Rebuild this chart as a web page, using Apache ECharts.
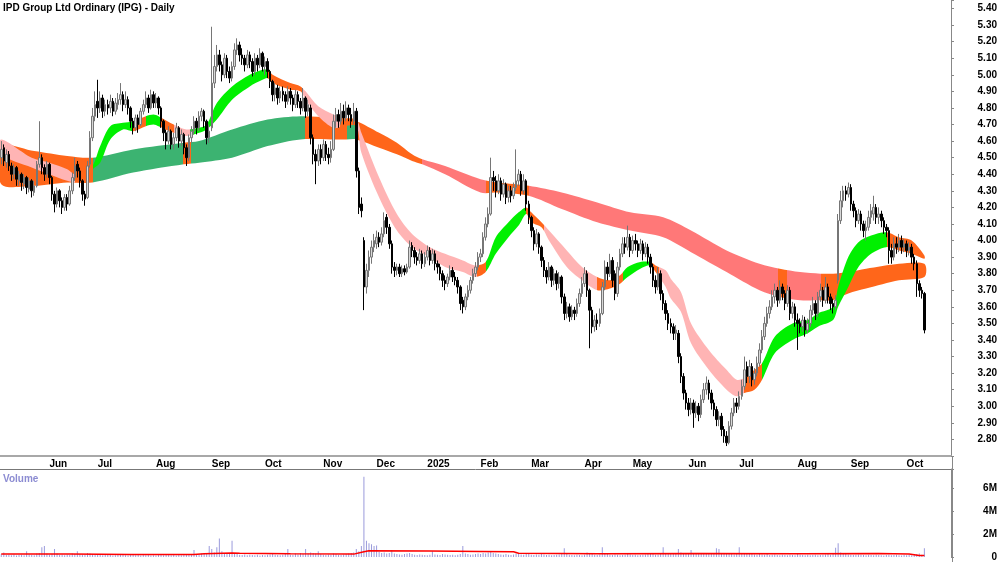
<!DOCTYPE html>
<html>
<head>
<meta charset="utf-8">
<title>IPD Group Ltd Ordinary (IPG) - Daily</title>
<script src="https://cdn.jsdelivr.net/npm/echarts@6/dist/echarts.min.js"></script>
<style>
  html, body { margin: 0; padding: 0; background: #fff; }
  #chart { width: 1000px; height: 562px; }
</style>
</head>
<body>
<div id="chart"></div>
<script>
// trading calendar (ASX), first bar and public holidays
const startDate = '2024-05-07'
const holidays = ['2024-06-10', '2024-12-25', '2024-12-26', '2025-01-01', '2025-01-27',
  '2025-04-18', '2025-04-21', '2025-04-25', '2025-06-09']
const slotCount = 375
const monthNames = ['Jan', 'Feb', 'Mar', 'Apr', 'May', 'Jun', 'Jul', 'Aug', 'Sep', 'Oct', 'Nov', 'Dec']

// daily bars: [open, close, low, high]
const candles = [
  [4.50,4.55,4.46,4.60],[4.56,4.48,4.45,4.58],[4.47,4.52,4.44,4.55],[4.52,4.45,4.42,4.54],[4.45,4.40,4.36,4.47],
  [4.40,4.44,4.37,4.46],[4.44,4.37,4.33,4.45],[4.36,4.40,4.33,4.42],[4.40,4.35,4.30,4.41],[4.34,4.38,4.31,4.40],
  [4.38,4.32,4.28,4.39],[4.31,4.36,4.29,4.38],[4.36,4.30,4.26,4.37],[4.29,4.33,4.27,4.36],[4.33,4.46,4.32,4.48],
  [4.46,4.50,4.44,4.72],[4.50,4.44,4.40,4.52],[4.44,4.40,4.36,4.46],[4.40,4.46,4.38,4.48],[4.46,4.38,4.34,4.47],
  [4.38,4.28,4.24,4.39],[4.28,4.22,4.17,4.30],[4.22,4.30,4.20,4.32],[4.30,4.24,4.20,4.31],[4.24,4.20,4.16,4.26],
  [4.20,4.26,4.18,4.28],[4.26,4.22,4.18,4.28],[4.22,4.30,4.21,4.33],[4.30,4.38,4.28,4.41],[4.38,4.45,4.36,4.50],
  [4.46,4.42,4.38,4.48],[4.42,4.36,4.32,4.44],[4.36,4.28,4.24,4.37],[4.28,4.25,4.21,4.30],[4.26,4.45,4.25,4.48],
  [4.46,4.62,4.44,4.66],[4.62,4.75,4.60,4.80],[4.75,4.82,4.72,4.90],[4.84,4.80,4.74,4.97],[4.80,4.86,4.77,4.90],
  [4.86,4.78,4.74,4.88],[4.78,4.82,4.75,4.85],[4.82,4.80,4.76,4.85],[4.80,4.84,4.77,4.88],[4.84,4.78,4.75,4.86],
  [4.78,4.83,4.76,4.86],[4.82,4.85,4.79,4.89],[4.85,4.88,4.82,4.95],[4.88,4.82,4.78,4.90],[4.82,4.85,4.80,4.90],
  [4.85,4.80,4.76,4.87],[4.80,4.72,4.68,4.81],[4.72,4.68,4.64,4.74],[4.68,4.74,4.66,4.76],[4.74,4.70,4.65,4.76],
  [4.70,4.78,4.69,4.80],[4.78,4.82,4.76,4.85],[4.82,4.86,4.80,4.90],[4.86,4.80,4.77,4.88],[4.80,4.88,4.79,4.91],
  [4.88,4.83,4.80,4.90],[4.83,4.86,4.80,4.89],[4.86,4.80,4.76,4.87],[4.80,4.72,4.68,4.81],[4.72,4.65,4.60,4.73],
  [4.65,4.60,4.55,4.67],[4.60,4.66,4.58,4.69],[4.66,4.58,4.55,4.67],[4.58,4.62,4.55,4.65],[4.62,4.68,4.60,4.71],
  [4.68,4.60,4.56,4.69],[4.60,4.64,4.57,4.67],[4.64,4.56,4.52,4.65],[4.56,4.50,4.45,4.58],[4.50,4.62,4.48,4.64],
  [4.62,4.66,4.59,4.69],[4.66,4.72,4.64,4.75],[4.72,4.68,4.64,4.74],[4.68,4.75,4.66,4.78],[4.75,4.78,4.72,4.80],
  [4.78,4.72,4.68,4.79],[4.72,4.62,4.58,4.73],[4.62,4.66,4.59,4.70],[4.68,4.95,4.66,5.29],[4.95,5.05,4.92,5.12],
  [5.05,5.12,5.02,5.18],[5.12,5.06,5.02,5.15],[5.06,5.00,4.96,5.08],[5.00,5.10,4.98,5.13],[5.10,5.02,4.98,5.12],
  [5.02,4.98,4.95,5.05],[4.98,5.05,4.96,5.08],[5.05,5.15,5.03,5.19],[5.15,5.18,5.12,5.22],[5.18,5.12,5.08,5.20],
  [5.12,5.10,5.06,5.16],[5.10,5.06,5.02,5.12],[5.06,5.12,5.04,5.15],[5.12,5.08,5.04,5.14],[5.08,5.02,4.99,5.10],
  [5.02,5.10,5.00,5.13],[5.10,5.06,5.02,5.12],[5.06,5.13,5.04,5.16],[5.13,5.05,5.02,5.14],[5.05,5.08,5.00,5.11],
  [5.08,5.02,4.98,5.10],[5.02,4.96,4.92,5.03],[4.96,4.88,4.84,4.97],[4.88,4.92,4.84,4.95],[4.92,4.86,4.82,4.94],
  [4.86,4.90,4.83,4.93],[4.90,4.88,4.84,4.93],[4.88,4.84,4.80,4.90],[4.84,4.90,4.82,4.93],[4.90,4.86,4.82,4.92],
  [4.86,4.82,4.78,4.88],[4.82,4.88,4.80,4.91],[4.88,4.84,4.80,4.90],[4.84,4.80,4.76,4.86],[4.80,4.86,4.78,4.92],
  [4.86,4.78,4.74,4.87],[4.78,4.82,4.75,4.85],[4.80,4.62,4.58,4.82],[4.62,4.52,4.46,4.64],[4.52,4.48,4.34,4.55],
  [4.48,4.55,4.45,4.58],[4.55,4.50,4.46,4.58],[4.50,4.58,4.48,4.61],[4.58,4.52,4.48,4.60],[4.52,4.50,4.46,4.56],
  [4.50,4.55,4.47,4.60],[4.55,4.72,4.54,4.76],[4.72,4.76,4.68,4.80],[4.76,4.72,4.68,4.79],[4.72,4.78,4.70,4.83],
  [4.78,4.74,4.70,4.82],[4.74,4.80,4.72,4.84],[4.80,4.76,4.72,4.82],[4.76,4.72,4.68,4.80],[4.72,4.78,4.70,4.83],
  [4.78,4.42,4.38,4.80],[4.42,4.20,4.16,4.44],[4.22,4.18,4.14,4.26],[4.00,3.72,3.58,4.02],[3.72,3.82,3.68,3.86],
  [3.82,3.90,3.78,3.94],[3.90,3.96,3.86,4.00],[3.96,4.00,3.93,4.04],[3.98,4.02,3.95,4.06],[4.02,3.99,3.96,4.05],
  [3.99,4.04,3.97,4.08],[4.04,4.12,4.02,4.17],[4.14,4.08,4.04,4.16],[4.08,3.98,3.95,4.10],[3.98,3.84,3.80,4.00],
  [3.84,3.82,3.78,3.87],[3.82,3.84,3.79,3.86],[3.84,3.80,3.78,3.86],[3.80,3.83,3.78,3.85],[3.83,3.81,3.79,3.85],
  [3.81,3.84,3.80,3.86],[3.84,3.96,3.83,4.00],[3.97,3.94,3.90,3.99],[3.94,3.90,3.86,3.96],[3.90,3.88,3.85,3.93],
  [3.88,3.92,3.86,3.95],[3.92,3.86,3.83,3.94],[3.86,3.90,3.84,3.93],[3.90,3.94,3.88,3.97],[3.94,3.88,3.85,3.96],
  [3.88,3.92,3.86,3.95],[3.92,3.86,3.82,3.94],[3.86,3.84,3.80,3.88],[3.84,3.80,3.76,3.86],[3.80,3.76,3.72,3.82],
  [3.76,3.74,3.70,3.79],[3.74,3.78,3.72,3.80],[3.78,3.82,3.76,3.85],[3.82,3.78,3.75,3.84],[3.78,3.76,3.73,3.81],
  [3.76,3.72,3.68,3.78],[3.72,3.62,3.58,3.73],[3.64,3.60,3.56,3.66],[3.60,3.66,3.58,3.68],[3.66,3.70,3.64,3.73],
  [3.70,3.76,3.68,3.78],[3.76,3.80,3.74,3.83],[3.80,3.84,3.78,3.87],[3.84,3.90,3.82,3.93],[3.90,3.92,3.87,3.95],
  [3.92,4.02,3.90,4.05],[4.02,4.10,4.00,4.14],[4.10,4.16,4.08,4.20],[4.16,4.38,4.15,4.50],[4.38,4.36,4.30,4.42],
  [4.36,4.30,4.26,4.39],[4.30,4.36,4.28,4.40],[4.36,4.28,4.24,4.38],[4.28,4.34,4.26,4.37],[4.34,4.26,4.22,4.35],
  [4.26,4.30,4.23,4.33],[4.30,4.27,4.23,4.33],[4.27,4.32,4.25,4.35],[4.32,4.36,4.30,4.55],[4.36,4.40,4.33,4.43],
  [4.40,4.30,4.27,4.42],[4.30,4.36,4.28,4.40],[4.36,4.22,4.18,4.37],[4.22,4.14,4.10,4.24],[4.14,4.06,4.02,4.15],
  [4.06,3.98,3.94,4.08],[3.98,4.04,3.96,4.07],[4.04,3.96,3.92,4.05],[3.96,3.88,3.84,3.97],[3.88,3.82,3.78,3.90],
  [3.82,3.78,3.74,3.84],[3.78,3.84,3.76,3.87],[3.84,3.76,3.72,3.85],[3.76,3.80,3.73,3.83],[3.80,3.74,3.70,3.82],
  [3.74,3.78,3.71,3.81],[3.78,3.66,3.62,3.79],[3.66,3.56,3.52,3.68],[3.56,3.60,3.53,3.63],[3.60,3.54,3.51,3.62],
  [3.54,3.58,3.52,3.61],[3.58,3.56,3.52,3.60],[3.56,3.62,3.54,3.65],[3.62,3.68,3.60,3.71],[3.68,3.74,3.66,3.78],
  [3.74,3.80,3.72,3.84],[3.80,3.70,3.66,3.82],[3.70,3.58,3.35,3.71],[3.58,3.48,3.44,3.60],[3.48,3.52,3.45,3.55],
  [3.52,3.50,3.46,3.56],[3.50,3.56,3.48,3.59],[3.56,3.72,3.55,3.75],[3.72,3.84,3.70,3.88],[3.84,3.80,3.76,3.87],
  [3.80,3.88,3.78,3.92],[3.88,3.76,3.72,3.90],[3.80,3.68,3.64,3.82],[3.68,3.84,3.66,3.87],[3.84,3.92,3.82,3.95],
  [3.92,3.98,3.90,4.02],[3.98,3.96,3.92,4.02],[3.96,4.02,3.94,4.09],[4.02,3.94,3.90,4.04],[3.94,4.00,3.92,4.03],
  [4.00,3.98,3.94,4.04],[3.98,3.94,3.90,4.00],[3.94,3.98,3.92,4.01],[3.98,3.92,3.88,4.00],[3.92,3.96,3.90,3.99],
  [3.96,3.90,3.86,3.98],[3.90,3.84,3.80,3.92],[3.84,3.76,3.72,3.86],[3.76,3.72,3.68,3.79],[3.72,3.80,3.70,3.84],
  [3.80,3.68,3.64,3.82],[3.68,3.62,3.58,3.70],[3.62,3.56,3.52,3.64],[3.56,3.50,3.46,3.58],[3.50,3.48,3.44,3.53],
  [3.48,3.44,3.40,3.50],[3.44,3.46,3.40,3.49],[3.44,3.30,3.26,3.46],[3.30,3.18,3.14,3.32],[3.18,3.08,3.04,3.20],
  [3.08,3.02,2.98,3.10],[3.02,2.98,2.94,3.05],[2.98,3.02,2.95,3.05],[3.02,2.96,2.87,3.04],[2.96,3.00,2.93,3.03],
  [3.00,2.95,2.91,3.02],[2.95,3.04,2.93,3.07],[3.04,3.10,3.02,3.14],[3.10,3.14,3.07,3.18],[3.14,3.08,3.04,3.16],
  [3.08,3.02,2.98,3.10],[3.02,2.98,2.94,3.04],[2.98,2.92,2.88,3.00],[2.92,2.94,2.88,2.97],[2.94,2.86,2.82,2.96],
  [2.86,2.82,2.78,2.88],[2.82,2.78,2.76,2.85],[2.78,2.88,2.77,2.91],[2.88,2.96,2.86,2.99],[2.96,3.02,2.94,3.05],
  [3.02,3.00,2.96,3.05],[3.00,3.06,2.98,3.09],[3.06,3.12,3.04,3.16],[3.12,3.22,3.10,3.30],[3.24,3.18,3.14,3.27],
  [3.18,3.24,3.14,3.28],[3.24,3.16,3.12,3.26],[3.16,3.20,3.13,3.23],[3.20,3.26,3.18,3.30],[3.26,3.34,3.24,3.38],
  [3.34,3.42,3.32,3.46],[3.42,3.50,3.40,3.54],[3.50,3.56,3.48,3.60],[3.56,3.60,3.53,3.64],[3.60,3.66,3.58,3.70],
  [3.66,3.70,3.62,3.74],[3.70,3.64,3.60,3.72],[3.64,3.72,3.62,3.76],[3.72,3.68,3.64,3.74],[3.68,3.62,3.58,3.70],
  [3.62,3.70,3.60,3.73],[3.70,3.56,3.52,3.72],[3.56,3.60,3.53,3.63],[3.60,3.52,3.48,3.62],[3.52,3.50,3.34,3.56],
  [3.50,3.48,3.44,3.53],[3.48,3.52,3.45,3.55],[3.52,3.46,3.42,3.54],[3.46,3.50,3.44,3.53],[3.50,3.58,3.48,3.61],
  [3.58,3.62,3.55,3.66],[3.62,3.56,3.52,3.64],[3.56,3.66,3.54,3.69],[3.66,3.70,3.63,3.74],[3.70,3.64,3.60,3.72],
  [3.64,3.72,3.62,3.78],[3.72,3.66,3.62,3.74],[3.66,3.62,3.58,3.68],[3.62,3.60,3.56,3.65],[3.60,3.64,3.58,3.67],
  [3.76,4.12,3.74,4.16],[4.12,4.24,4.10,4.30],[4.24,4.30,4.20,4.33],[4.30,4.28,4.24,4.33],[4.28,4.32,4.26,4.35],
  [4.32,4.22,4.18,4.34],[4.22,4.18,4.14,4.24],[4.18,4.12,4.08,4.20],[4.12,4.16,4.10,4.19],[4.16,4.10,4.06,4.18],
  [4.10,4.06,4.02,4.12],[4.06,4.08,4.00,4.12],[4.08,4.14,4.06,4.18],[4.14,4.18,4.10,4.22],[4.16,4.20,4.12,4.27],
  [4.20,4.14,4.10,4.22],[4.14,4.16,4.10,4.20],[4.16,4.12,4.08,4.18],[4.12,4.08,4.04,4.14],[4.08,4.06,4.02,4.10],
  [4.06,3.94,3.86,4.08],[3.94,3.90,3.86,3.98],[3.90,3.98,3.88,4.02],[3.98,3.96,3.92,4.02],[3.96,4.00,3.93,4.04],
  [4.00,3.96,3.92,4.03],[3.96,3.98,3.93,4.01],[3.98,3.94,3.90,4.00],[3.94,3.96,3.91,3.99],[3.96,3.90,3.86,3.98],
  [3.90,3.86,3.82,3.92],[3.86,3.74,3.66,3.88],[3.74,3.70,3.66,3.76],[3.70,3.68,3.65,3.72],[3.68,3.46,3.44,3.69]
]

// daily volume, millions of shares
const volumeM = [
  0.25,0.4,0.18,0.2,0.15,0.22,0.12,0.18,0.2,0.15,0.5,0.22,0.18,0.15,0.3,0.35,0.85,0.95,0.3,0.2,
  0.25,0.7,0.3,0.18,0.2,0.15,0.22,0.18,0.3,0.25,0.5,0.22,0.2,0.18,0.35,0.3,0.25,0.2,0.18,0.22,
  0.15,0.2,0.18,0.25,0.12,0.15,0.2,0.18,0.22,0.15,0.12,0.18,0.2,0.15,0.18,0.12,0.2,0.15,0.18,0.12,
  0.15,0.12,0.18,0.2,0.15,0.22,0.18,0.15,0.2,0.12,0.18,0.15,0.22,0.25,0.2,0.18,0.6,0.25,0.2,0.3,
  0.35,0.25,0.95,0.7,0.4,0.85,1.6,0.5,0.35,0.3,0.25,1.4,0.3,0.25,0.2,0.18,0.22,0.15,0.2,0.18,
  0.15,0.2,0.12,0.18,0.15,0.2,0.22,0.25,0.2,0.18,0.15,0.2,0.25,0.7,0.2,0.18,0.3,0.22,0.35,0.25,
  0.7,0.3,0.4,0.35,0.3,0.5,0.25,0.2,0.18,0.22,0.2,0.3,0.25,0.2,0.18,0.22,0.25,0.3,0.35,0.4,
  0.7,0.5,0.95,6.95,1.4,1.2,1.1,0.95,1.0,0.45,0.35,0.4,0.3,0.35,0.6,0.3,0.25,0.22,0.2,0.25,
  0.3,0.35,0.25,0.2,0.18,0.22,0.2,0.18,0.15,0.2,0.5,0.22,0.2,0.18,0.25,0.22,0.2,0.18,0.2,0.15,
  0.2,0.25,0.95,0.3,0.25,0.2,0.22,0.25,0.3,0.25,0.35,0.3,0.4,0.45,0.35,0.3,0.25,0.22,0.2,0.25,
  0.2,0.18,0.22,0.3,0.25,0.22,0.2,0.3,0.25,0.2,0.18,0.22,0.2,0.25,0.22,0.18,0.2,0.15,0.18,0.2,
  0.22,0.3,0.75,0.25,0.2,0.18,0.15,0.2,0.18,0.15,0.2,0.4,0.3,0.25,0.2,0.18,0.22,0.85,0.3,0.25,
  0.2,0.18,0.22,0.2,0.15,0.18,0.2,0.25,0.22,0.18,0.2,0.15,0.18,0.2,0.22,0.25,0.3,0.25,0.2,0.22,
  0.3,0.85,0.35,0.3,0.25,0.28,0.3,0.7,0.4,0.35,0.3,0.35,0.6,0.3,0.28,0.25,0.3,0.28,0.35,0.3,
  0.25,0.3,0.75,0.7,0.35,0.3,0.28,0.3,0.25,0.22,0.3,0.85,0.35,0.3,0.25,0.28,0.25,0.22,0.2,0.25,
  0.22,0.2,0.25,0.18,0.2,0.22,0.18,0.15,0.2,0.18,0.15,0.2,0.18,0.15,0.25,0.2,0.18,0.15,0.2,0.15,
  0.18,0.2,0.15,0.18,0.2,0.22,0.25,0.2,0.3,0.8,1.2,0.4,0.3,0.25,0.22,0.2,0.18,0.2,0.22,0.2,
  0.18,0.15,0.2,0.18,0.15,0.2,0.18,0.15,0.12,0.18,0.2,0.15,0.18,0.2,0.15,0.12,0.18,0.15,0.2,0.15,
  0.2,0.25,0.3,0.2,0.75
]

// volume average line, [bar index, millions]
const volumeAvg = [[0,0.25],[27,0.25],[51,0.22],[76,0.22],[80,0.28],[91,0.35],[94,0.33],[114,0.28],
  [139,0.25],[143,0.45],[145,0.55],[169,0.52],[189,0.48],[202,0.45],[204,0.32],[236,0.28],[275,0.30],
  [315,0.28],[346,0.30],[358,0.25],[362,0.12],[364,0.12]]

// fast ribbon, [bar index, upper, lower]
const fastBand = [
  [0,4.61,4.52],[12,4.50,4.44],[19,4.47,4.40],[26,4.43,4.36],[29,4.40,4.35],[33,4.42,4.37],[36,4.45,4.43],
  [39,4.57,4.47],[43,4.69,4.61],[48,4.71,4.67],[52,4.72,4.66],[57,4.75,4.69],[60,4.76,4.70],[62,4.75,4.69],
  [68,4.70,4.65],[73,4.67,4.63],[78,4.68,4.65],[81,4.70,4.67],[85,4.83,4.73],[91,4.93,4.85],[98,5.00,4.93],
  [103,5.03,4.97],[105,5.03,4.98],[107,5.00,4.95],[114,4.95,4.91],[118,4.93,4.90],[120,4.90,4.85],
  [125,4.81,4.75],[131,4.76,4.68],[135,4.74,4.69],[140,4.73,4.69],[142,4.65,4.53],[149,4.38,4.26],
  [156,4.16,4.06],[162,4.04,3.96],[169,3.96,3.90],[175,3.92,3.84],[182,3.88,3.81],[187,3.85,3.78],
  [191,3.87,3.81],[195,4.02,3.92],[200,4.11,4.02],[204,4.17,4.09],[207,4.20,4.16],[209,4.17,4.11],
  [213,4.11,4.08],[216,4.06,4.00],[223,3.94,3.84],[229,3.84,3.76],[235,3.78,3.70],[240,3.76,3.71],
  [244,3.79,3.74],[247,3.84,3.78],[252,3.87,3.83],[256,3.87,3.85],[258,3.85,3.81],[262,3.82,3.72],
  [264,3.77,3.65],[268,3.69,3.57],[272,3.50,3.38],[279,3.34,3.22],[286,3.22,3.10],[290,3.16,3.06],
  [293,3.17,3.08],[297,3.22,3.10],[300,3.26,3.16],[305,3.42,3.32],[312,3.50,3.40],[318,3.52,3.44],
  [322,3.56,3.48],[328,3.60,3.52],[330,3.72,3.60],[334,3.90,3.72],[338,3.99,3.84],[343,4.03,3.92],
  [349,4.05,3.96],[354,4.02,3.94],[359,4.00,3.92],[364,3.91,3.89]
]
// colour of the fast ribbon from each bar index onwards
const fastColours = [[0,'pink'],[29,'orange'],[36,'lime'],[52,'orange'],[57,'lime'],[62.5,'orange'],
  [68,'pink'],[74.4,'lime'],[105,'orange'],[118.4,'pink'],[133.4,'orange'],[140.5,'pink'],[187.4,'orange'],
  [191.3,'lime'],[207,'orange'],[214,'pink'],[235,'orange'],[245,'lime'],[256.3,'orange'],[259.5,'pink'],
  [293,'orange'],[300,'lime'],[349.2,'orange']]

// slow ribbon, [bar index, upper, lower]
const slowBand = [
  [0,4.57,4.34],[13,4.54,4.33],[26,4.51,4.35],[36,4.50,4.35],[52,4.55,4.41],[72,4.59,4.46],[78,4.60,4.47],
  [91,4.67,4.50],[105,4.73,4.57],[118,4.75,4.61],[130,4.74,4.61],[136,4.72,4.61],[140,4.72,4.61],
  [149,4.65,4.56],[156,4.59,4.52],[162,4.52,4.48],[166,4.49,4.46],[175,4.45,4.40],[189,4.37,4.29],
  [196,4.35,4.29],[208,4.33,4.27],[221,4.29,4.19],[235,4.23,4.11],[248,4.17,4.06],[261,4.14,4.02],
  [272,4.06,3.93],[286,3.94,3.81],[299,3.86,3.70],[307,3.83,3.66],[315,3.81,3.64],[323,3.80,3.64],
  [328,3.80,3.64],[334,3.81,3.68],[341,3.83,3.71],[354,3.86,3.76],[364,3.86,3.78]
]
const slowColours = [[0,'orange'],[36,'green'],[71.6,'orange'],[74.7,'green'],[119.6,'orange'],
  [136.2,'green'],[140,'orange'],[166.1,'salmon'],[191.3,'orange'],[208.2,'salmon'],[306.3,'orange'],
  [309.9,'salmon'],[323.3,'orange']]

const palette = {
  pink: '#ffb4b4',
  salmon: '#ff7878',
  orange: '#ff661a',
  lime: '#00f000',
  green: '#3cb371'
}

const font = 'Liberation Sans, Arial, sans-serif'

// build the trading-day categories
const dates = []
for (let d = new Date(startDate + 'T00:00:00Z'); dates.length < slotCount; d.setUTCDate(d.getUTCDate() + 1)) {
  const wd = d.getUTCDay()
  const s = d.toISOString().slice(0, 10)
  if (wd === 0 || wd === 6 || holidays.includes(s)) continue
  dates.push(s)
}

const isMonthStart = (i) => i > 0 && dates[i].slice(0, 7) !== dates[i - 1].slice(0, 7)
const monthLabel = (value) => {
  const m = +value.slice(5, 7)
  return m === 1 ? value.slice(0, 4) : monthNames[m - 1]
}

function ribbon (samples, colours, z) {
  return {
    type: 'custom',
    xAxisIndex: 0,
    yAxisIndex: 0,
    silent: true,
    z: z,
    data: [[0, samples[0][1]]],
    renderItem: function (params, api) {
      const up = samples.map(s => api.coord([s[0], s[1]]))
      const lo = samples.map(s => api.coord([s[0], s[2]])).reverse()
      const c0 = api.coord([0, 4])[0]
      const step = api.coord([1, 4])[0] - c0
      const left = up[0][0]
      const right = up[up.length - 1][0]
      const off = (b) => Math.min(1, Math.max(0, (c0 + b * step - left) / (right - left)))
      const stops = []
      colours.forEach((c, k) => {
        const col = palette[c[1]]
        const end = k + 1 < colours.length ? off(colours[k + 1][0]) : 1
        stops.push({ offset: off(c[0]), color: col }, { offset: end, color: col })
      })
      return {
        type: 'polygon',
        shape: { points: up.concat(lo), smooth: 0.3 },
        style: { fill: new echarts.graphic.LinearGradient(left, 0, right, 0, stops, true), stroke: null }
      }
    }
  }
}

const chart = echarts.init(document.getElementById('chart'), null, { renderer: 'canvas' })

const option = {
  animation: false,
  backgroundColor: '#ffffff',
  textStyle: { fontFamily: font },
  title: [
    {
      text: 'IPD Group Ltd Ordinary (IPG) - Daily',
      left: 3, top: 3, padding: 0,
      textStyle: { fontSize: 10, fontWeight: 'bold', color: '#000', fontFamily: font }
    },
    {
      text: 'Volume',
      left: 3, top: 474, padding: 0,
      textStyle: { fontSize: 10, fontWeight: 'bold', color: '#8c8cd2', fontFamily: font }
    }
  ],
  grid: [
    { left: 0, right: 48, top: 0, height: 456 },
    { left: 0, right: 48, top: 469, height: 89 }
  ],
  xAxis: [
    {
      type: 'category',
      gridIndex: 0,
      data: dates,
      boundaryGap: true,
      axisLine: { lineStyle: { color: '#a8a8a8', width: 2 } },
      axisTick: { interval: (i) => isMonthStart(i), length: 3, lineStyle: { color: '#888' } },
      axisLabel: {
        interval: (i) => isMonthStart(i),
        formatter: monthLabel,
        align: 'left',
        margin: 3,
        color: '#000',
        fontSize: 10,
        fontWeight: 'bold',
        fontFamily: font
      },
      splitLine: { show: false }
    },
    {
      type: 'category',
      gridIndex: 1,
      data: dates,
      boundaryGap: true,
      position: 'top',
      axisLine: { onZero: false, lineStyle: { color: '#777', width: 1 } },
      axisTick: { show: false },
      axisLabel: { show: false },
      splitLine: { show: false }
    }
  ],
  yAxis: [
    {
      type: 'value',
      gridIndex: 0,
      position: 'right',
      min: 2.7,
      max: 5.4513,
      interval: 0.1,
      axisLine: { show: true, lineStyle: { color: '#888' } },
      axisTick: { show: true, length: 3, lineStyle: { color: '#888' } },
      axisLabel: {
        formatter: (v) => (v < 2.75 || v > 5.42) ? '' : v.toFixed(2),
        align: 'right',
        margin: 46,
        color: '#000',
        fontSize: 10,
        fontWeight: 'bold',
        fontFamily: font
      },
      splitLine: { show: false }
    },
    {
      type: 'value',
      gridIndex: 1,
      position: 'right',
      min: 0,
      max: 7.63,
      interval: 2,
      axisLine: { show: true, lineStyle: { color: '#888' } },
      axisTick: { show: true, length: 3, lineStyle: { color: '#888' } },
      axisLabel: {
        formatter: (v) => v === 0 ? '0' : (v % 2 === 0 ? v + 'M' : ''),
        align: 'right',
        margin: 46,
        color: '#000',
        fontSize: 10,
        fontWeight: 'bold',
        fontFamily: font
      },
      splitLine: { show: false }
    }
  ],
  graphic: [
    { type: 'line', shape: { x1: 952.5, y1: 456, x2: 952.5, y2: 562 }, style: { stroke: '#888', lineWidth: 1 }, silent: true }
  ],
  series: [
    ribbon(slowBand, slowColours, 1),
    ribbon(fastBand, fastColours, 2),
    {
      type: 'candlestick',
      xAxisIndex: 0,
      yAxisIndex: 0,
      z: 5,
      barWidth: 2,
      data: candles,
      itemStyle: {
        color: '#d8d8d8',
        borderColor: '#767676',
        color0: '#000000',
        borderColor0: '#000000',
        borderWidth: 1
      }
    },
    {
      type: 'bar',
      xAxisIndex: 1,
      yAxisIndex: 1,
      barWidth: 1,
      data: volumeM,
      itemStyle: { color: '#9b9bdc' }
    },
    {
      type: 'line',
      xAxisIndex: 1,
      yAxisIndex: 1,
      data: volumeAvg,
      symbol: 'none',
      lineStyle: { color: '#ff0000', width: 1.5 },
      z: 4
    }
  ]
}

chart.setOption(option)
</script>
</body>
</html>
